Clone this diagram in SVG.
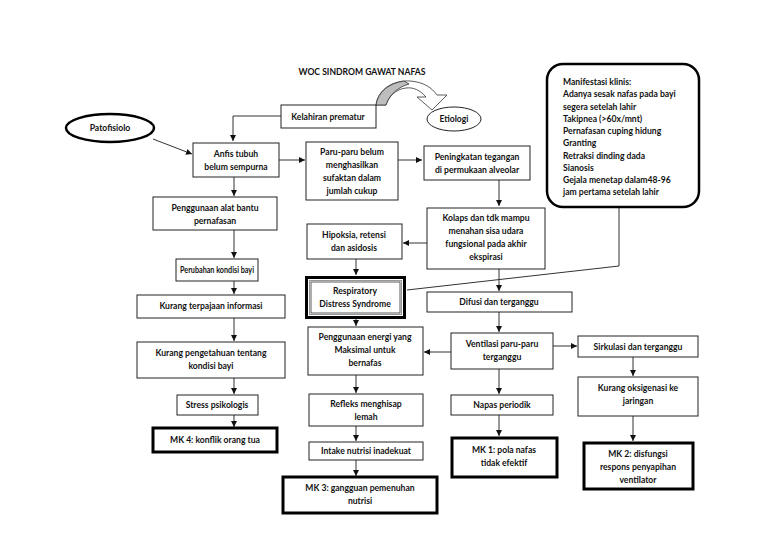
<svg xmlns="http://www.w3.org/2000/svg" width="768" height="543" viewBox="0 0 768 543">
<defs>
<style>
.b{fill:#fff;stroke:#222;stroke-width:1}
.k{fill:#fff;stroke:#000;stroke-width:3}
.t{font-family:Lato,"Liberation Sans",sans-serif;font-size:8.6px;font-weight:bold;fill:#111;text-anchor:middle}
.l{text-anchor:start}
.c{fill:none;stroke:#333;stroke-width:1}
</style>
<marker id="a" viewBox="0 0 10 10" refX="10" refY="5" markerWidth="6" markerHeight="6" orient="auto" markerUnits="userSpaceOnUse">
<path d="M0,0 L10,5 L0,10 Z" fill="#111"/>
</marker>
</defs>
<rect width="768" height="543" fill="#fff"/>
<text class="t" x="362" y="75">WOC SINDROM GAWAT NAFAS</text>

<g id="connectors">
<path class="c" d="M281,116 H233 V141" marker-end="url(#a)"/>
<path class="c" d="M153,139 L192,154" marker-end="url(#a)"/>
<path class="c" d="M279,160 H305" marker-end="url(#a)"/>
<path class="c" d="M398,160 H422" marker-end="url(#a)"/>
<path class="c" d="M499,180 V206" marker-end="url(#a)"/>
<path class="c" d="M427,243 H403" marker-end="url(#a)"/>
<path class="c" d="M356,259 V275" marker-end="url(#a)"/>
<path class="c" d="M619,207 V266 L407,290"/>
<path class="c" d="M499,269 V291" marker-end="url(#a)"/>
<path class="c" d="M499,312 V332" marker-end="url(#a)"/>
<path class="c" d="M356,318 V326" marker-end="url(#a)"/>
<path class="c" d="M451,352 H424" marker-end="url(#a)"/>
<path class="c" d="M553,346 H577" marker-end="url(#a)"/>
<path class="c" d="M633,357 V376" marker-end="url(#a)"/>
<path class="c" d="M633,416 V441" marker-end="url(#a)"/>
<path class="c" d="M499,369 V394" marker-end="url(#a)"/>
<path class="c" d="M499,415 V436" marker-end="url(#a)"/>
<path class="c" d="M356,375 V393" marker-end="url(#a)"/>
<path class="c" d="M356,426 V441" marker-end="url(#a)"/>
<path class="c" d="M356,460 V476" marker-end="url(#a)"/>
<path class="c" d="M234,177 V196" marker-end="url(#a)"/>
<path class="c" d="M234,230 V258" marker-end="url(#a)"/>
<path class="c" d="M234,281 V294" marker-end="url(#a)"/>
<path class="c" d="M234,318 V341" marker-end="url(#a)"/>
<path class="c" d="M234,378 V394" marker-end="url(#a)"/>
<path class="c" d="M234,415 V427" marker-end="url(#a)"/>
</g>

<g id="curved-arrow">
<path d="M376,105 C378,88 395,80 410,81 C424,82 432,88 437,95 L447,95 L432,110 L417,97 L426,97 C420,90 413,87 406,88 C396,89 389,96 386,105 Z" fill="#fff" stroke="#333" stroke-width="0.8"/>
<path d="M376,105 C378,91 390,83 404,81 L409,84 C398,87 389,95 386,105 Z" fill="#bdbdbd" stroke="#333" stroke-width="0.8"/>
</g>

<g id="kelahiran"><rect class="b" x="281" y="105" width="95" height="23"/><text class="t" x="328" y="119.5">Kelahiran prematur</text></g>
<g id="etiologi"><ellipse cx="454" cy="119" rx="27" ry="12" fill="#fff" stroke="#222"/><text class="t" x="454" y="122">Etiologi</text></g>
<g id="patofisiolo"><ellipse cx="110" cy="128" rx="44" ry="14" fill="#fff" stroke="#000" stroke-width="2.5"/><text class="t" x="110" y="131">Patofisiolo</text></g>

<g id="anfis"><rect class="b" x="193" y="143" width="86" height="34"/><text class="t" x="236" y="157">Anfis tubuh</text><text class="t" x="236" y="170">belum sempurna</text></g>
<g id="paru"><rect class="b" x="306" y="142" width="92" height="58"/><text class="t" x="352" y="155">Paru-paru belum</text><text class="t" x="352" y="168">menghasilkan</text><text class="t" x="352" y="181">sufaktan dalam</text><text class="t" x="352" y="194">jumlah cukup</text></g>
<g id="peningkatan"><rect class="b" x="424" y="146" width="106" height="34"/><text class="t" x="477" y="160">Peningkatan tegangan</text><text class="t" x="477" y="173">di permukaan alveolar</text></g>

<g id="manifestasi"><rect x="547" y="64" width="152" height="143" rx="16" fill="#fff" stroke="#000" stroke-width="2.5"/>
<text class="t l" x="563" y="85">Manifestasi klinis:</text>
<text class="t l" x="563" y="97">Adanya sesak nafas pada bayi</text>
<text class="t l" x="563" y="110">segera setelah lahir</text>
<text class="t l" x="563" y="122">Takipnea (&gt;60x/mnt)</text>
<text class="t l" x="563" y="134">Pernafasan cuping hidung</text>
<text class="t l" x="563" y="146">Granting</text>
<text class="t l" x="563" y="159">Retraksi dinding dada</text>
<text class="t l" x="563" y="171">Sianosis</text>
<text class="t l" x="563" y="183">Gejala menetap dalam48-96</text>
<text class="t l" x="563" y="195">jam pertama setelah lahir</text>
</g>

<g id="kolaps"><rect class="b" x="427" y="208" width="118" height="61"/><text class="t" x="486" y="221">Kolaps dan tdk mampu</text><text class="t" x="486" y="234">menahan sisa udara</text><text class="t" x="486" y="247">fungsional pada akhir</text><text class="t" x="486" y="260">ekspirasi</text></g>
<g id="hipoksia"><rect class="b" x="307" y="224" width="95" height="35"/><text class="t" x="354" y="238">Hipoksia, retensi</text><text class="t" x="354" y="251">dan asidosis</text></g>

<g id="rds"><rect x="306.5" y="277.5" width="98" height="40" fill="#fff" stroke="#000" stroke-width="3"/><rect x="309.5" y="280.5" width="92" height="34" fill="none" stroke="#999" stroke-width="1"/><rect x="311" y="282" width="89" height="31" fill="none" stroke="#333" stroke-width="0.8"/><text class="t" x="355" y="294">Respiratory</text><text class="t" x="355" y="307">Distress Syndrome</text></g>

<g id="difusi"><rect class="b" x="427" y="292" width="145" height="20"/><text class="t" x="499" y="305">Difusi dan terganggu</text></g>
<g id="ventilasi"><rect class="b" x="451" y="333" width="102" height="36"/><text class="t" x="502" y="347">Ventilasi paru-paru</text><text class="t" x="502" y="360">terganggu</text></g>
<g id="sirkulasi"><rect class="b" x="578" y="336" width="120" height="21"/><text class="t" x="638" y="350">Sirkulasi dan terganggu</text></g>
<g id="oksigenasi"><rect class="b" x="578" y="377" width="120" height="39"/><text class="t" x="638" y="391">Kurang oksigenasi ke</text><text class="t" x="638" y="404">jaringan</text></g>
<g id="mk2"><rect class="k" x="584" y="443" width="109" height="46"/><text class="t" x="638" y="457">MK 2: disfungsi</text><text class="t" x="638" y="470">respons penyapihan</text><text class="t" x="638" y="483">ventilator</text></g>
<g id="napas"><rect class="b" x="451" y="395" width="102" height="20"/><text class="t" x="502" y="408">Napas periodik</text></g>
<g id="mk1"><rect class="k" x="452" y="438" width="105" height="39"/><text class="t" x="504" y="453">MK 1: pola nafas</text><text class="t" x="504" y="466">tidak efektif</text></g>

<g id="energi"><rect class="b" x="308" y="327" width="115" height="48"/><text class="t" x="365" y="340">Penggunaan energi yang</text><text class="t" x="365" y="353">Maksimal untuk</text><text class="t" x="365" y="366">bernafas</text></g>
<g id="refleks"><rect class="b" x="309" y="394" width="114" height="32"/><text class="t" x="366" y="407">Refleks menghisap</text><text class="t" x="366" y="420">lemah</text></g>
<g id="intake"><rect class="b" x="309" y="442" width="114" height="18"/><text class="t" x="366" y="454">Intake nutrisi inadekuat</text></g>
<g id="mk3"><rect class="k" x="283" y="477" width="154" height="36"/><text class="t" x="360" y="491">MK 3: gangguan pemenuhan</text><text class="t" x="360" y="504">nutrisi</text></g>

<g id="alat"><rect class="b" x="153" y="197" width="124" height="33"/><text class="t" x="215" y="211">Penggunaan alat bantu</text><text class="t" x="215" y="224">pernafasan</text></g>
<g id="perubahan"><rect class="b" x="176" y="259" width="82" height="22"/><text class="t" x="217" y="273" textLength="74" lengthAdjust="spacingAndGlyphs">Perubahan kondisi bayi</text></g>
<g id="terpajaan"><rect class="b" x="137" y="295" width="148" height="23"/><text class="t" x="211" y="309">Kurang terpajaan informasi</text></g>
<g id="pengetahuan"><rect class="b" x="137" y="342" width="148" height="36"/><text class="t" x="211" y="356">Kurang pengetahuan tentang</text><text class="t" x="211" y="369">kondisi bayi</text></g>
<g id="stress"><rect class="b" x="177" y="395" width="81" height="20"/><text class="t" x="217" y="408">Stress psikologis</text></g>
<g id="mk4"><rect class="k" x="153" y="428" width="124" height="24"/><text class="t" x="215" y="443">MK 4: konflik orang tua</text></g>
</svg>
